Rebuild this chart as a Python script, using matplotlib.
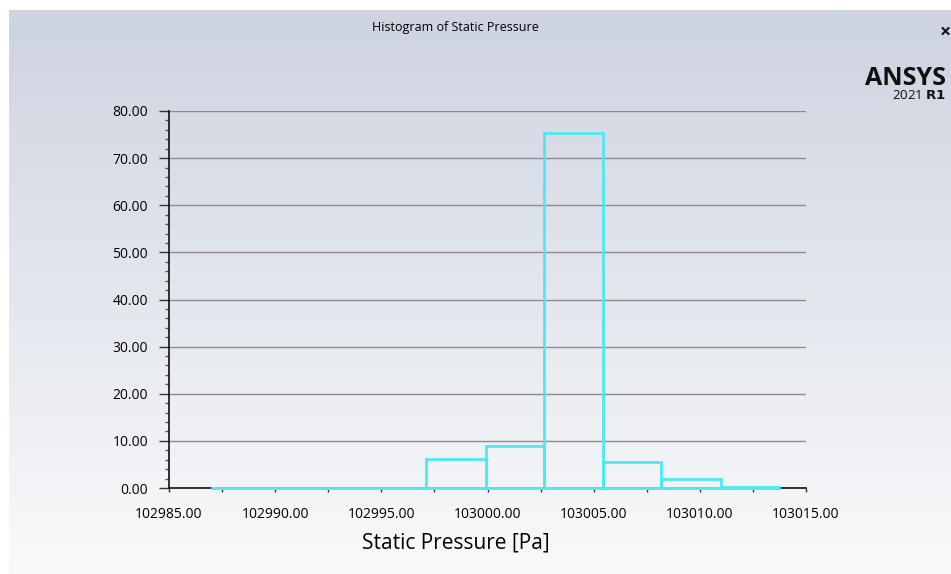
import numpy as np
import matplotlib
matplotlib.use('Agg')
import matplotlib.pyplot as plt
from matplotlib.ticker import MultipleLocator, FuncFormatter

# histogram of static pressure (percent per bin)
bin_edges = [102986.98, 102997.09, 102999.93, 103002.66, 103005.43, 103008.19, 103011.00, 103013.75]
bin_values = [0.0, 6.1, 8.9, 75.4, 5.45, 1.85, 0.2]

title = 'Histogram of Static Pressure'
x_label = 'Static Pressure [Pa]'

plt.rcParams['font.family'] = ['Open Sans', 'DejaVu Sans']

W, H = 951, 574
fig = plt.figure(figsize=(W / 100, H / 100), dpi=100)
fig.patch.set_facecolor('white')

# background gradient panel
bg = fig.add_axes([9 / W, 0, 1 - 9 / W, 1 - 10 / H])
top = np.array([205, 211, 224]) / 255
bot = np.array([249, 250, 251]) / 255
t = np.linspace(0, 1, 256)[:, None]
grad = top[None, :] * (1 - t) + bot[None, :] * t
bg.imshow(grad[:, None, :], aspect='auto', extent=[0, 1, 0, 1])
bg.set_axis_off()

ax = fig.add_axes([169 / W, 1 - 488 / H, (806 - 169) / W, (488 - 111) / H])
ax.set_facecolor('none')

edges = np.array(bin_edges)
widths = np.diff(edges)
cyan = '#4DE9F2'
ax.bar(edges[:-1], bin_values, width=widths, align='edge', fill=False,
       edgecolor=cyan, linewidth=2.0, zorder=3, clip_on=False)
# baseline of the histogram drawn over the axis
ax.hlines(0, edges[0], edges[-1], color=cyan, linewidth=2.0, zorder=4, clip_on=False)

ax.set_xlim(102985, 103015)
ax.set_ylim(0, 80)

ax.xaxis.set_major_locator(MultipleLocator(5))
ax.xaxis.set_minor_locator(MultipleLocator(2.5))
ax.yaxis.set_major_locator(MultipleLocator(10))
ax.yaxis.set_minor_locator(MultipleLocator(2))
ax.xaxis.set_major_formatter(FuncFormatter(lambda v, p: '%.2f' % v))
ax.yaxis.set_major_formatter(FuncFormatter(lambda v, p: '%.2f' % v))

ax.grid(axis='y', which='major', color='#8c8c8c', linewidth=1.0, zorder=1)
ax.set_axisbelow(True)

for s in ['top', 'right']:
    ax.spines[s].set_visible(False)
for s in ['left', 'bottom']:
    ax.spines[s].set_color('#111111')
    ax.spines[s].set_linewidth(1.2)

ax.tick_params(axis='y', which='major', length=7.5, width=1, color='#333333',
               labelsize=10, pad=7.5)
ax.tick_params(axis='y', which='minor', length=3, width=1, color='#555555')
ax.tick_params(axis='x', which='both', length=3, width=1, color='#333333',
               labelsize=10, pad=11)

ax.set_xlabel(x_label, fontsize=15)
ax.xaxis.set_label_coords((456 - 169) / (806 - 169), -(543 - 488) / (488 - 111))
ax.xaxis.label.set_va('center')

fig.text(455 / W, 1 - 28 / H, title, ha='center', va='center', fontsize=9)

fig.text(946 / W, 1 - 85 / H, 'ANSYS', ha='right', va='baseline',
         fontsize=18, fontweight='bold', color='#111111')
fig.text(946 / W, 1 - 99 / H, '2021 $\\mathbf{R1}$', ha='right', va='baseline',
         fontsize=9.5, color='#111111')
fig.text(945 / W, 1 - 33 / H, '×', ha='center', va='center',
         fontsize=14, fontweight='bold', color='#111111')

fig.savefig('out.png', dpi=100)
